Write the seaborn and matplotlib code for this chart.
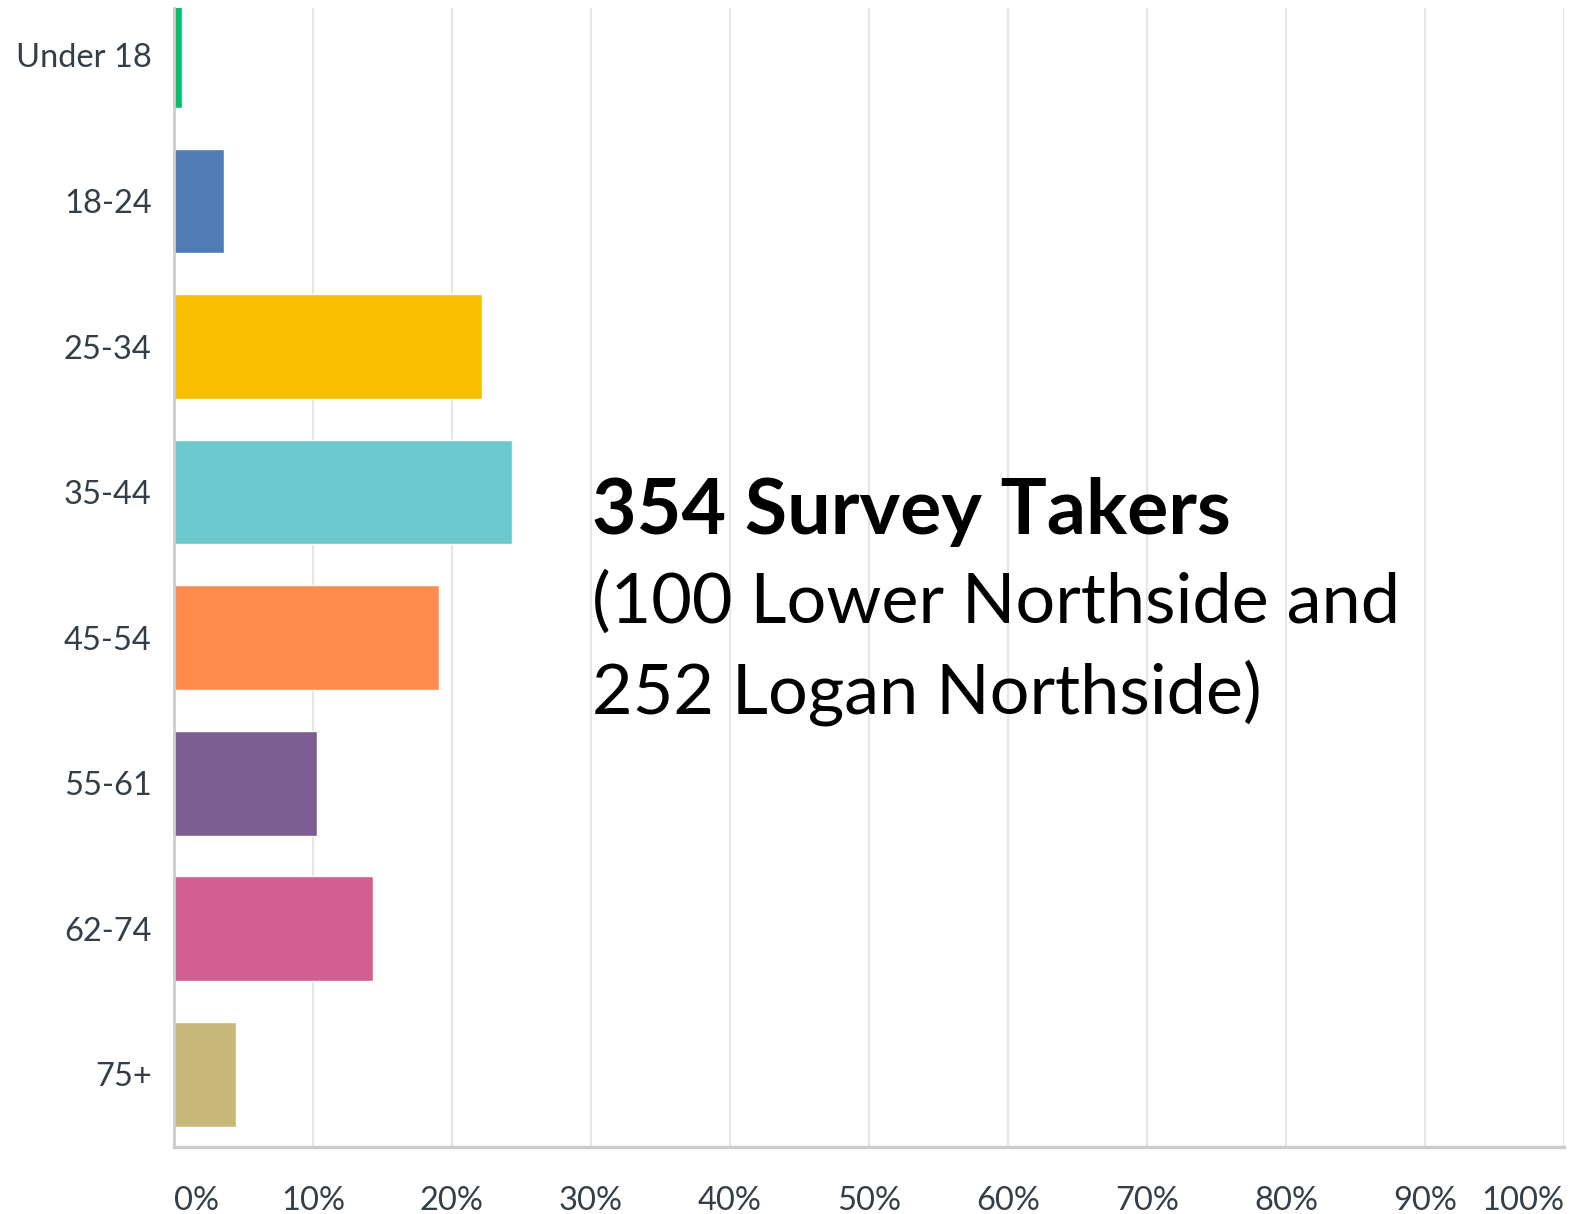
import matplotlib
matplotlib.use("Agg")
import matplotlib.pyplot as plt
import seaborn as sns
import pandas as pd

# age groups and share of respondents (%)
age_groups = ["Under 18", "18-24", "25-34", "35-44", "45-54", "55-61", "62-74", "75+"]
pct = [0.6, 3.6, 22.2, 24.3, 19.1, 10.3, 14.3, 4.5]
bar_colors = ["#00BF6F", "#507CB6", "#F9BE00", "#6BC8CD", "#FF8B4F", "#7D5E90", "#D25F90", "#C7B879"]
x_ticks = [0, 10, 20, 30, 40, 50, 60, 70, 80, 90, 100]
x_ticklabels = ["0%", "10%", "20%", "30%", "40%", "50%", "60%", "70%", "80%", "90%", "100%"]
note_bold = "354 Survey Takers"
note_lines = ["(100 Lower Northside and", "252 Logan Northside)"]

df = pd.DataFrame({"age": age_groups, "pct": pct})

sns.set_style("white")
plt.rcParams["font.family"] = ["Lato", "DejaVu Sans"]

fig = plt.figure(figsize=(15.8, 12.14), dpi=100)
ax = fig.add_axes([0.110, 0.0552, 0.880, 0.9382])

sns.barplot(data=df, x="pct", y="age", hue="age", palette=bar_colors,
            legend=False, orient="h", width=0.72, saturation=1, ax=ax)

ax.set_xlim(0, 100)
ax.set_ylim(7.5, -0.326)
ax.set_xticks(x_ticks)
ax.set_xticklabels(x_ticklabels)
ax.set_xlabel("")
ax.set_ylabel("")

ax.grid(True, axis="x", color="#e6e6e6", linewidth=1.5)
ax.set_axisbelow(True)
for s in ["top", "right"]:
    ax.spines[s].set_visible(False)
ax.spines["left"].set_color("#cccccc")
ax.spines["left"].set_linewidth(2)
ax.spines["bottom"].set_color("#cccccc")
ax.spines["bottom"].set_linewidth(2.5)

ax.tick_params(axis="both", length=0, labelsize=23.5, labelcolor="#333e48")
ax.tick_params(axis="x", pad=28)
ax.tick_params(axis="y", pad=16)
xl = ax.get_xticklabels()
xl[0].set_ha("left")
xl[-1].set_ha("right")

ax.text(0.3007, 0.538, note_bold, transform=ax.transAxes, fontsize=55.5,
        fontweight="bold", ha="left", va="baseline", color="black")
for i, line in enumerate(note_lines):
    ax.text(0.3007, 0.460 - i * 0.079, line, transform=ax.transAxes, fontsize=50.5,
            ha="left", va="baseline", color="black")

fig.savefig("out.png", dpi=100)
